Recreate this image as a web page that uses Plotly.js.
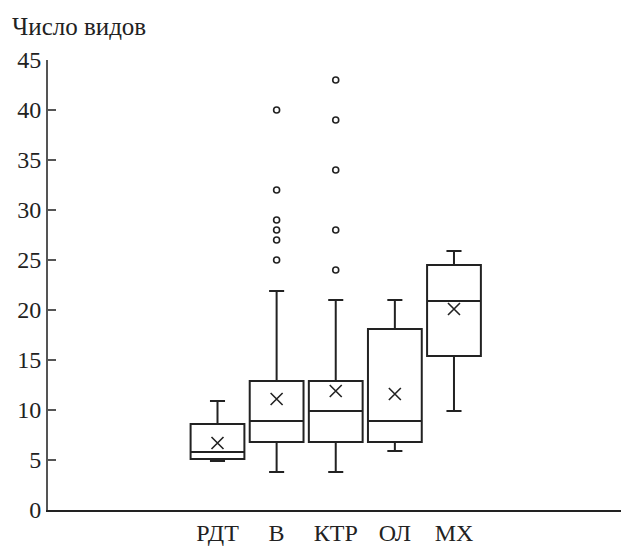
<!DOCTYPE html>
<html>
<head>
<meta charset="utf-8">
<script src="https://cdn.plot.ly/plotly-3.0.1.min.js"></script>
<style>html,body{margin:0;padding:0;background:#fff;}</style>
</head>
<body>
<div id="chart" style="width:621px;height:546px"></div>
<script>
const categories = ['РДТ', 'В', 'КТР', 'ОЛ', 'МХ'];
const q1Values = [5.1, 6.8, 6.8, 6.8, 15.4];
const medianValues = [5.8, 8.9, 9.9, 8.9, 20.9];
const q3Values = [8.6, 12.9, 12.9, 18.1, 24.5];
const lowerWhisker = [4.9, 3.8, 3.8, 5.9, 9.9];
const upperWhisker = [10.9, 21.9, 21.0, 21.0, 25.9];
const meanValues = [6.7, 11.1, 11.9, 11.6, 20.1];
const outliersB = [40, 32, 29, 28, 27, 25];
const outliersKTR = [43, 39, 34, 28, 24];
const yTicks = [0, 5, 10, 15, 20, 25, 30, 35, 40, 45];

const inkColor = '#222222';
const serifFamily = 'Liberation Serif, serif';

const boxTrace = {
  type: 'box',
  x: categories,
  q1: q1Values,
  median: medianValues,
  q3: q3Values,
  lowerfence: lowerWhisker,
  upperfence: upperWhisker,
  boxpoints: false,
  width: 0.91,
  whiskerwidth: 0.28,
  fillcolor: 'rgba(0,0,0,0)',
  line: {color: inkColor, width: 2},
  hoverinfo: 'skip',
  showlegend: false
};
const meanTrace = {
  type: 'scatter',
  mode: 'markers',
  x: categories,
  y: meanValues,
  marker: {symbol: 'x-thin-open', size: 12, color: inkColor, line: {color: inkColor, width: 1.6}},
  showlegend: false,
  hoverinfo: 'skip'
};
const outB = {
  type: 'scatter',
  mode: 'markers',
  x: outliersB.map(() => categories[1]),
  y: outliersB,
  marker: {symbol: 'circle-open', size: 6, color: inkColor, line: {color: inkColor, width: 1.6}},
  showlegend: false,
  hoverinfo: 'skip'
};
const outK = {
  type: 'scatter',
  mode: 'markers',
  x: outliersKTR.map(() => categories[2]),
  y: outliersKTR,
  marker: {symbol: 'circle-open', size: 6, color: inkColor, line: {color: inkColor, width: 1.6}},
  showlegend: false,
  hoverinfo: 'skip'
};

const layout = {
  width: 621,
  height: 546,
  margin: {l: 48, r: 0, t: 60, b: 36, pad: 0},
  font: {family: serifFamily, size: 22},
  title: {
    text: 'Число видов',
    x: 12 / 621, xanchor: 'left', xref: 'container',
    y: 1 - 26 / 546, yanchor: 'middle', yref: 'container',
    font: {family: serifFamily, size: 25, color: inkColor}
  },
  showlegend: false,
  xaxis: {
    type: 'category',
    range: [-2.867, 6.825],
    showline: true,
    linecolor: inkColor,
    linewidth: 2,
    ticks: '',
    showgrid: false,
    zeroline: false,
    tickfont: {family: serifFamily, size: 24, color: inkColor}
  },
  yaxis: {
    range: [0, 45],
    tickvals: yTicks,
    showline: true,
    linecolor: '#555555',
    linewidth: 2,
    ticks: 'inside',
    ticklen: 8,
    tickwidth: 1.5,
    tickcolor: '#555555',
    showgrid: false,
    zeroline: false,
    tickfont: {family: serifFamily, size: 24, color: inkColor}
  }
};

Plotly.newPlot('chart', [boxTrace, meanTrace, outB, outK], layout, {displayModeBar: false});
</script>
</body>
</html>
